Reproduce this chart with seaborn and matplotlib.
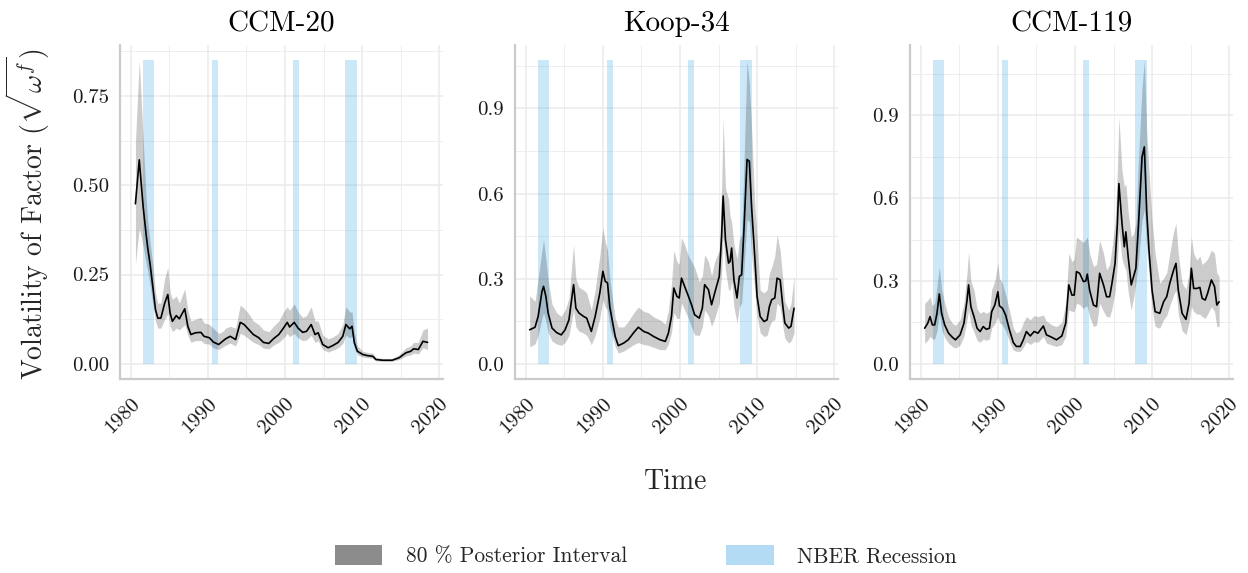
import matplotlib
matplotlib.use("Agg")
import matplotlib.pyplot as plt
import seaborn as sns
import pandas as pd
from matplotlib.patches import Patch
from matplotlib.ticker import FixedLocator

# --- data (year, median, 10% and 90% bounds) ---
years_ccm20 = [1980.6, 1981.1, 1981.6, 1982.0, 1982.2, 1982.5, 1982.9, 1983.2, 1983.5, 1983.9,
               1984.4, 1984.8, 1985.1, 1985.4, 1985.9, 1986.3, 1987.0, 1987.4, 1987.8, 1988.4,
               1989.1, 1989.5, 1990.2, 1990.7, 1991.4, 1991.9, 1992.3, 1992.9, 1993.6, 1994.2,
               1994.7, 1995.3, 1995.9, 1996.6, 1997.2, 1997.9, 1998.5, 1999.2, 1999.8, 2000.3,
               2000.6, 2001.2, 2001.7, 2002.3, 2002.8, 2003.4, 2003.9, 2004.3, 2004.9, 2005.6,
               2006.2, 2006.9, 2007.5, 2007.9, 2008.4, 2008.7, 2009.0, 2009.4, 2010.1, 2010.7,
               2011.4, 2011.8, 2012.7, 2013.9, 2014.8, 2015.7, 2016.3, 2016.7, 2017.3, 2017.9,
               2018.5]
med_ccm20 = [0.448, 0.571, 0.44, 0.36, 0.324, 0.28, 0.208, 0.152, 0.128, 0.128,
             0.17, 0.194, 0.142, 0.119, 0.135, 0.126, 0.154, 0.105, 0.082, 0.087,
             0.088, 0.077, 0.073, 0.061, 0.054, 0.063, 0.07, 0.077, 0.068, 0.116,
             0.11, 0.096, 0.082, 0.073, 0.06, 0.057, 0.07, 0.082, 0.1, 0.116,
             0.103, 0.116, 0.1, 0.088, 0.091, 0.11, 0.082, 0.087, 0.054, 0.045,
             0.051, 0.06, 0.077, 0.11, 0.098, 0.105, 0.059, 0.035, 0.026, 0.023,
             0.021, 0.012, 0.01, 0.01, 0.017, 0.031, 0.035, 0.042, 0.04, 0.063,
             0.06]
lo_ccm20 = [0.28, 0.38, 0.33, 0.28, 0.26, 0.22, 0.16, 0.12, 0.10, 0.10,
            0.125, 0.14, 0.105, 0.09, 0.10, 0.095, 0.11, 0.08, 0.06, 0.065,
            0.065, 0.057, 0.055, 0.045, 0.04, 0.047, 0.052, 0.058, 0.05, 0.085,
            0.08, 0.07, 0.06, 0.054, 0.044, 0.042, 0.052, 0.06, 0.072, 0.085,
            0.076, 0.085, 0.072, 0.065, 0.067, 0.08, 0.06, 0.064, 0.04, 0.033,
            0.038, 0.045, 0.057, 0.08, 0.072, 0.077, 0.043, 0.025, 0.019, 0.017,
            0.015, 0.008, 0.007, 0.007, 0.012, 0.022, 0.025, 0.03, 0.028, 0.045,
            0.04]
hi_ccm20 = [0.62, 0.85, 0.63, 0.46, 0.40, 0.34, 0.27, 0.20, 0.17, 0.17,
            0.24, 0.27, 0.20, 0.18, 0.19, 0.17, 0.21, 0.15, 0.12, 0.125,
            0.13, 0.115, 0.11, 0.10, 0.085, 0.09, 0.10, 0.105, 0.10, 0.165,
            0.155, 0.14, 0.12, 0.11, 0.095, 0.09, 0.105, 0.12, 0.145, 0.16,
            0.15, 0.168, 0.145, 0.13, 0.135, 0.16, 0.12, 0.12, 0.08, 0.07,
            0.075, 0.085, 0.11, 0.16, 0.145, 0.145, 0.09, 0.05, 0.035, 0.032,
            0.03, 0.018, 0.015, 0.015, 0.025, 0.045, 0.05, 0.06, 0.06, 0.095,
            0.10]

years_koop34 = [1980.5, 1981.2, 1981.6, 1982.1, 1982.3, 1982.6, 1982.9, 1983.4, 1984.0, 1984.6,
                1985.1, 1985.6, 1986.0, 1986.2, 1986.5, 1986.9, 1987.5, 1987.9, 1988.2, 1988.5,
                1989.0, 1989.6, 1990.0, 1990.3, 1990.6, 1990.9, 1991.6, 1992.0, 1992.7, 1993.3,
                1994.0, 1994.6, 1995.3, 1995.9, 1996.6, 1997.4, 1998.1, 1998.5, 1998.9, 1999.2,
                1999.6, 1999.9, 2000.2, 2000.6, 2001.1, 2001.5, 2001.9, 2002.5, 2002.9, 2003.2,
                2003.7, 2004.1, 2004.5, 2005.1, 2005.4, 2005.6, 2005.9, 2006.3, 2006.5, 2006.7,
                2007.0, 2007.4, 2007.7, 2008.0, 2008.3, 2008.7, 2009.0, 2009.3, 2009.7, 2010.0,
                2010.4, 2010.9, 2011.3, 2011.6, 2011.9, 2012.3, 2012.6, 2013.0, 2013.3, 2013.6,
                2014.1, 2014.4, 2014.8]
med_koop34 = [0.12, 0.129, 0.167, 0.255, 0.273, 0.238, 0.179, 0.126, 0.11, 0.102,
              0.12, 0.155, 0.238, 0.279, 0.196, 0.179, 0.167, 0.161, 0.138, 0.114,
              0.167, 0.249, 0.326, 0.291, 0.285, 0.20, 0.096, 0.064, 0.073, 0.085,
              0.11, 0.129, 0.114, 0.108, 0.096, 0.085, 0.079, 0.108, 0.167, 0.267,
              0.238, 0.232, 0.302, 0.273, 0.238, 0.208, 0.173, 0.161, 0.196, 0.279,
              0.261, 0.208, 0.249, 0.308, 0.449, 0.591, 0.438, 0.355, 0.361, 0.408,
              0.296, 0.232, 0.308, 0.314, 0.473, 0.72, 0.714, 0.549, 0.379, 0.238,
              0.167, 0.149, 0.155, 0.202, 0.226, 0.232, 0.302, 0.296, 0.214, 0.144,
              0.126, 0.132, 0.196]
lo_koop34 = [0.06, 0.07, 0.10, 0.16, 0.18, 0.15, 0.11, 0.08, 0.07, 0.065,
             0.075, 0.10, 0.16, 0.19, 0.13, 0.115, 0.108, 0.10, 0.085, 0.067,
             0.10, 0.16, 0.226, 0.20, 0.19, 0.13, 0.06, 0.038, 0.045, 0.055,
             0.068, 0.075, 0.068, 0.065, 0.058, 0.05, 0.05, 0.07, 0.11, 0.18,
             0.16, 0.16, 0.214, 0.19, 0.16, 0.13, 0.102, 0.10, 0.13, 0.19,
             0.17, 0.132, 0.16, 0.214, 0.32, 0.45, 0.33, 0.26, 0.26, 0.29,
             0.20, 0.144, 0.20, 0.214, 0.33, 0.508, 0.50, 0.38, 0.26, 0.167,
             0.11, 0.096, 0.10, 0.13, 0.15, 0.155, 0.214, 0.20, 0.14, 0.09,
             0.073, 0.08, 0.108]
hi_koop34 = [0.24, 0.22, 0.30, 0.40, 0.438, 0.37, 0.296, 0.21, 0.18, 0.167,
             0.19, 0.23, 0.36, 0.42, 0.30, 0.27, 0.26, 0.25, 0.22, 0.19,
             0.26, 0.38, 0.479, 0.43, 0.40, 0.30, 0.16, 0.13, 0.13, 0.15,
             0.18, 0.20, 0.185, 0.18, 0.165, 0.155, 0.14, 0.19, 0.28, 0.40,
             0.36, 0.35, 0.445, 0.42, 0.38, 0.36, 0.34, 0.29, 0.31, 0.385,
             0.36, 0.31, 0.36, 0.40, 0.62, 0.867, 0.62, 0.58, 0.52, 0.50,
             0.42, 0.37, 0.44, 0.455, 0.70, 1.07, 0.99, 0.826, 0.56, 0.45,
             0.26, 0.25, 0.26, 0.32, 0.34, 0.38, 0.455, 0.40, 0.31, 0.22,
             0.19, 0.21, 0.31]

years_ccm119 = [1980.5, 1980.9, 1981.2, 1981.5, 1981.8, 1982.1, 1982.4, 1982.7, 1983.1, 1983.6,
                1984.1, 1984.5, 1985.1, 1985.6, 1986.0, 1986.2, 1986.5, 1986.9, 1987.3, 1987.7,
                1988.1, 1988.5, 1988.9, 1989.2, 1989.6, 1990.0, 1990.2, 1990.6, 1991.0, 1991.5,
                1992.0, 1992.4, 1992.9, 1993.3, 1993.7, 1994.2, 1994.7, 1995.2, 1995.9, 1996.3,
                1997.0, 1997.6, 1998.3, 1998.8, 1999.2, 1999.6, 1999.9, 2000.2, 2000.6, 2001.1,
                2001.4, 2001.6, 2001.9, 2002.4, 2002.8, 2003.2, 2003.7, 2004.1, 2004.5, 2004.8,
                2005.2, 2005.5, 2005.7, 2006.1, 2006.4, 2006.6, 2006.9, 2007.3, 2007.6, 2007.9,
                2008.2, 2008.7, 2009.0, 2009.3, 2009.6, 2010.0, 2010.4, 2011.0, 2011.5, 2011.9,
                2012.3, 2012.8, 2013.1, 2013.4, 2013.9, 2014.4, 2014.8, 2015.1, 2015.4, 2015.8,
                2016.2, 2016.5, 2016.9, 2017.2, 2017.7, 2018.1, 2018.4, 2018.7]
med_ccm119 = [0.129, 0.147, 0.171, 0.141, 0.141, 0.183, 0.253, 0.183, 0.141, 0.111,
              0.096, 0.087, 0.105, 0.147, 0.231, 0.286, 0.207, 0.171, 0.129, 0.117,
              0.135, 0.125, 0.129, 0.189, 0.213, 0.261, 0.21, 0.201, 0.177, 0.123,
              0.077, 0.063, 0.063, 0.087, 0.117, 0.101, 0.117, 0.111, 0.137, 0.105,
              0.096, 0.087, 0.101, 0.147, 0.286, 0.249, 0.249, 0.334, 0.328, 0.298,
              0.30, 0.325, 0.267, 0.213, 0.207, 0.328, 0.286, 0.243, 0.243, 0.292,
              0.364, 0.508, 0.653, 0.508, 0.424, 0.478, 0.388, 0.286, 0.316, 0.346,
              0.484, 0.749, 0.786, 0.557, 0.412, 0.267, 0.189, 0.183, 0.225, 0.243,
              0.292, 0.34, 0.364, 0.267, 0.183, 0.161, 0.219, 0.346, 0.273, 0.273,
              0.277, 0.237, 0.231, 0.255, 0.304, 0.28, 0.213, 0.225]
lo_ccm119 = [0.075, 0.085, 0.10, 0.09, 0.09, 0.12, 0.183, 0.125, 0.095, 0.075,
             0.062, 0.057, 0.068, 0.10, 0.16, 0.195, 0.14, 0.115, 0.085, 0.078,
             0.09, 0.085, 0.09, 0.13, 0.145, 0.171, 0.15, 0.14, 0.12, 0.08,
             0.05, 0.045, 0.045, 0.06, 0.08, 0.07, 0.08, 0.078, 0.099, 0.075,
             0.068, 0.063, 0.07, 0.10, 0.195, 0.19, 0.19, 0.219, 0.215, 0.20,
             0.21, 0.207, 0.17, 0.135, 0.14, 0.22, 0.19, 0.171, 0.17, 0.20,
             0.26, 0.36, 0.484, 0.38, 0.352, 0.34, 0.26, 0.195, 0.24, 0.292,
             0.36, 0.52, 0.557, 0.42, 0.33, 0.20, 0.135, 0.129, 0.16, 0.175,
             0.21, 0.25, 0.267, 0.18, 0.12, 0.105, 0.15, 0.207, 0.19, 0.18,
             0.18, 0.171, 0.165, 0.18, 0.207, 0.19, 0.135, 0.135]
hi_ccm119 = [0.219, 0.23, 0.243, 0.21, 0.22, 0.28, 0.352, 0.27, 0.22, 0.17,
             0.147, 0.14, 0.16, 0.22, 0.33, 0.406, 0.30, 0.267, 0.20, 0.183,
             0.19, 0.183, 0.19, 0.27, 0.30, 0.364, 0.31, 0.292, 0.25, 0.195,
             0.13, 0.111, 0.12, 0.15, 0.171, 0.16, 0.175, 0.171, 0.177, 0.155,
             0.141, 0.135, 0.15, 0.22, 0.40, 0.37, 0.38, 0.46, 0.45, 0.44,
             0.45, 0.46, 0.40, 0.352, 0.36, 0.448, 0.40, 0.34, 0.36, 0.42,
             0.508, 0.70, 0.894, 0.70, 0.641, 0.653, 0.55, 0.46, 0.47, 0.508,
             0.72, 1.0, 1.1, 0.85, 0.70, 0.52, 0.40, 0.292, 0.31, 0.33,
             0.40, 0.48, 0.508, 0.40, 0.292, 0.27, 0.33, 0.46, 0.40, 0.376,
             0.39, 0.36, 0.37, 0.38, 0.412, 0.40, 0.33, 0.316]

# NBER recessions (start, end)
rec_start = [1981.6, 1990.55, 2001.05, 2007.8]
rec_end = [1982.95, 1991.25, 2001.85, 2009.4]

titles = ["CCM-20", "Koop-34", "CCM-119"]
yticks_ccm = [0.0, 0.25, 0.5, 0.75]
ylabels_ccm = ["0.00", "0.25", "0.50", "0.75"]
yticks_koop = [0.0, 0.3, 0.6, 0.9]
ylabels_koop = ["0.0", "0.3", "0.6", "0.9"]
xticks = [1980, 1990, 2000, 2010, 2020]

panels = [
    (years_ccm20, med_ccm20, lo_ccm20, hi_ccm20, yticks_ccm, ylabels_ccm),
    (years_koop34, med_koop34, lo_koop34, hi_koop34, yticks_koop, ylabels_koop),
    (years_ccm119, med_ccm119, lo_ccm119, hi_ccm119, yticks_koop, ylabels_koop),
]

sns.set_theme(style="whitegrid")
plt.rcParams["font.family"] = ["cmr10", "DejaVu Serif"]
plt.rcParams["mathtext.fontset"] = "cm"
plt.rcParams["axes.formatter.use_mathtext"] = True

W, H = 1248, 573
fig = plt.figure(figsize=(W / 100, H / 100), dpi=100, facecolor="white")

rec_color = "#56B4E9"
axis_gray = "#cbcbcb"
grid_gray = "#ebebeb"
lefts = [120, 515, 910]

for i, (yrs, med, lo, hi, yt, yl) in enumerate(panels):
    ax = fig.add_axes([lefts[i] / W, (H - 379) / H, 323 / W, 334 / H])
    top = max(hi)

    # recession shading from 0 up to the top of the interval
    for s, e in zip(rec_start, rec_end):
        ax.fill_between([s, e], [0, 0], [top, top], color=rec_color, alpha=0.3, lw=0, zorder=2)

    # posterior interval + median
    ax.fill_between(yrs, lo, hi, color="black", alpha=0.2, lw=0, zorder=3)
    df = pd.DataFrame({"Time": yrs, "vol": med})
    sns.lineplot(data=df, x="Time", y="vol", ax=ax, color="black", lw=1.2, zorder=4)

    ax.set_xlim(1978.6, 2020.5)
    ax.set_ylim(-0.05 * top, 1.05 * top)

    ax.set_xticks(xticks)
    ax.set_xticklabels([str(x) for x in xticks], rotation=45, ha="right", va="top",
                       rotation_mode="anchor")
    ax.xaxis.set_minor_locator(FixedLocator([1985, 1995, 2005, 2015]))
    ax.set_yticks(yt)
    ax.set_yticklabels(yl)
    step = yt[1] - yt[0]
    ax.yaxis.set_minor_locator(FixedLocator([v + step / 2 for v in yt]))

    ax.set_facecolor("white")
    ax.grid(which="major", color=grid_gray, lw=1.1)
    ax.grid(which="minor", color=grid_gray, lw=0.6)
    for side in ["top", "right"]:
        ax.spines[side].set_visible(False)
    for side in ["left", "bottom"]:
        ax.spines[side].set_visible(True)
        ax.spines[side].set_color(axis_gray)
        ax.spines[side].set_linewidth(1.6)
    ax.tick_params(which="major", direction="out", length=5, width=1.3, color=axis_gray,
                   labelsize=15, labelcolor="#1a1a1a", pad=3)
    ax.tick_params(which="minor", length=0)
    ax.tick_params(axis="x", pad=6)
    ax.set_xlabel("")
    ax.set_ylabel("")
    ax.set_title(titles[i], fontsize=21, pad=10, color="black")

fig.text(28 / W, 1 - 214 / H, r"Volatility of Factor ($\sqrt{\omega^f}$)", rotation=90,
         ha="center", va="center", fontsize=20)
fig.text(676 / W, 1 - 482 / H, "Time", ha="center", va="center", fontsize=20)

handles = [Patch(facecolor="#8c8c8c", edgecolor="none", label="80 % Posterior Interval"),
           Patch(facecolor="#b3dbf3", edgecolor="none", label="NBER Recession")]
fig.legend(handles=handles, loc="center", bbox_to_anchor=(646 / W, 1 - 556 / H), ncol=2,
           frameon=False, fontsize=15.5, handlelength=2.2, handleheight=1.0,
           handletextpad=1.1, columnspacing=4.6)

fig.savefig("out.png", dpi=100, facecolor="white")
